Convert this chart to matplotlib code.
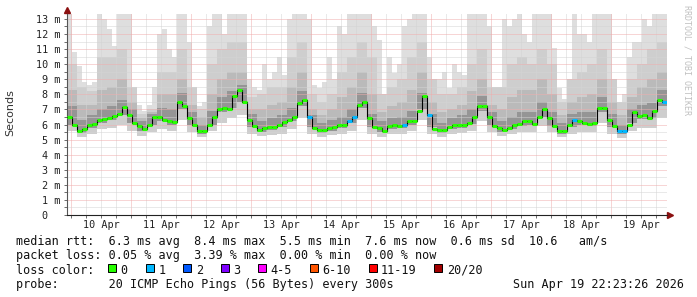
# smokeping style latency chart (median rtt + smoke)
import numpy as np
import matplotlib
matplotlib.use('Agg')
import matplotlib.pyplot as plt
import matplotlib.dates as mdates
from matplotlib.patches import Rectangle
from matplotlib.transforms import blended_transform_factory

start = np.datetime64('2026-04-09T22:23')

# median rtt, one value per 2 hours (ms)
median_rtt = [6.5, 6.0, 5.6, 5.7, 5.95, 6.05, 6.3, 6.35, 6.45, 6.55, 6.7, 7.15,
              6.6, 6.1, 5.9, 5.7, 6.0, 6.5, 6.5, 6.3, 6.25, 6.15, 7.5, 7.2,
              6.4, 5.95, 5.6, 5.6, 6.0, 6.5, 7.0, 7.1, 7.0, 7.9, 8.3, 7.5,
              6.3, 5.9, 5.65, 5.8, 5.85, 5.85, 5.95, 6.15, 6.3, 6.5, 7.4, 7.6,
              6.5, 5.75, 5.65, 5.65, 5.75, 5.85, 5.95, 5.95, 6.2, 6.5, 7.3, 7.5,
              6.4, 5.85, 5.8, 5.55, 5.9, 5.95, 5.9, 6.0, 6.2, 6.2, 6.9, 7.9,
              6.6, 5.7, 5.64, 5.65, 5.84, 6.0, 5.95, 6.0, 6.1, 6.5, 7.25, 7.2,
              6.5, 5.9, 5.75, 5.65, 5.8, 5.97, 6.05, 6.2, 6.25, 6.05, 6.5, 7.0,
              6.4, 5.9, 5.6, 5.6, 5.95, 6.3, 6.2, 6.1, 6.05, 6.1, 7.1, 7.1,
              6.3, 5.9, 5.57, 5.57, 6.0, 6.8, 6.56, 6.63, 6.4, 6.9, 7.6, 7.5]
# lost pings per 2 hour step
loss_count = [0] * 48 + [1] + [0] * 7 + [1, 1] + [0] * 9 + [1] + [0] * 4 + [1] + \
             [0] * 28 + [1] + [0] * 8 + [1, 1] + [0] * 7 + [1]

# highest ping, one value per 2 hours (ms)
smoke_max = [13.3, 10.8, 9.9, 8.8, 8.6, 8.8, 13.3, 13.0, 12.3, 11.2, 13.3, 13.3,
             13.3, 8.5, 7.3, 6.9, 7.3, 8.5, 12.0, 12.3, 11.0, 10.5, 13.3, 13.3,
             11.5, 8.0, 7.2, 7.5, 12.5, 13.3, 13.3, 12.0, 13.3, 13.3, 13.3, 13.3,
             9.0, 8.5, 8.3, 10.0, 9.0, 9.5, 10.5, 9.3, 13.0, 13.3, 13.3, 13.3,
             13.0, 8.6, 8.4, 8.8, 10.5, 9.0, 12.5, 12.0, 13.3, 13.3, 13.3, 13.3,
             13.3, 12.5, 11.6, 7.3, 10.5, 9.4, 10.0, 12.5, 13.0, 13.3, 13.3, 13.3,
             10.5, 8.8, 9.0, 9.5, 8.4, 10.0, 9.5, 9.3, 13.3, 13.3, 13.3, 13.3,
             12.5, 8.0, 8.5, 13.0, 12.5, 13.0, 13.3, 12.0, 11.5, 13.3, 13.3, 13.3,
             13.3, 11.1, 8.4, 7.7, 8.4, 13.3, 12.0, 12.0, 11.5, 13.3, 13.3, 13.3,
             13.3, 8.6, 7.3, 8.0, 10.5, 11.5, 11.5, 13.0, 12.5, 13.3, 13.3, 13.3]

# ping spread quantiles, one value per 4 hours (ms)
smoke_q3 = [10.0, 8.5, 8.2, 10.5, 10.5, 11.0, 8.5, 6.7, 7.0, 9.5,
            9.5, 11.0, 8.5, 7.0, 10.0, 11.0, 11.5, 11.5, 7.8, 8.0,
            8.5, 8.5, 10.5, 11.5, 8.0, 7.5, 8.0, 9.5, 10.5, 11.5,
            10.5, 8.0, 8.5, 9.0, 10.5, 11.5, 9.0, 8.0, 8.0, 8.5,
            10.0, 11.0, 8.5, 8.5, 10.0, 10.5, 10.0, 11.0, 10.0, 7.5,
            9.0, 9.5, 10.0, 11.0, 9.0, 7.5, 9.0, 10.0, 11.0, 11.5]
smoke_q2 = [8.3, 7.3, 7.3, 8.3, 8.5, 9.0, 7.5, 6.4, 6.8, 8.0,
            8.0, 9.0, 7.3, 6.5, 8.0, 9.0, 9.5, 9.5, 7.0, 7.0,
            7.3, 7.5, 8.5, 9.5, 7.0, 6.6, 7.0, 7.8, 8.5, 9.5,
            8.0, 6.8, 7.2, 7.5, 8.3, 9.5, 7.5, 6.8, 7.0, 7.3,
            8.2, 9.0, 7.3, 7.0, 7.8, 8.3, 8.3, 9.0, 8.0, 6.6,
            7.5, 7.8, 8.0, 9.0, 7.5, 6.6, 7.8, 8.5, 9.0, 9.5]
smoke_q1 = [7.2, 6.3, 6.6, 7.0, 7.2, 7.6, 7.0, 6.2, 6.7, 7.1,
            7.0, 8.1, 6.8, 6.0, 6.9, 7.8, 8.2, 8.6, 6.7, 6.2,
            6.4, 6.6, 7.1, 8.2, 6.6, 6.1, 6.3, 6.5, 7.0, 8.1,
            6.7, 6.2, 6.4, 6.5, 6.9, 8.1, 6.7, 6.1, 6.4, 6.6,
            7.0, 7.9, 6.8, 6.2, 6.5, 6.8, 6.8, 7.5, 6.8, 6.1,
            6.7, 6.8, 6.8, 7.8, 6.7, 6.0, 7.0, 7.3, 7.4, 8.3]
smoke_low = [6.0, 5.45, 5.8, 6.1, 6.3, 6.6, 6.1, 5.6, 6.0, 6.2,
             6.0, 7.0, 5.95, 5.4, 6.0, 6.8, 7.1, 7.5, 5.85, 5.5,
             5.65, 5.85, 6.2, 7.2, 5.85, 5.45, 5.6, 5.75, 6.1, 7.1,
             5.85, 5.5, 5.7, 5.75, 6.0, 7.0, 5.85, 5.45, 5.7, 5.8,
             6.05, 6.9, 5.95, 5.5, 5.7, 5.9, 5.95, 6.5, 5.9, 5.4,
             5.85, 5.95, 5.9, 6.8, 5.85, 5.37, 6.1, 6.35, 6.4, 7.2]
smoke_min = [5.6, 5.2, 5.4, 5.7, 5.8, 6.0, 5.6, 5.25, 5.5, 5.7,
             5.6, 6.3, 5.5, 5.15, 5.6, 6.1, 6.4, 6.6, 5.4, 5.25,
             5.3, 5.4, 5.7, 6.4, 5.4, 5.2, 5.3, 5.4, 5.6, 6.3,
             5.4, 5.2, 5.35, 5.4, 5.6, 6.3, 5.4, 5.2, 5.35, 5.45,
             5.6, 6.2, 5.5, 5.25, 5.35, 5.5, 5.5, 5.9, 5.5, 5.15,
             5.4, 5.5, 5.5, 6.1, 5.4, 5.1, 5.6, 5.8, 5.8, 6.4]

days = ['10 Apr', '11 Apr', '12 Apr', '13 Apr', '14 Apr',
        '15 Apr', '16 Apr', '17 Apr', '18 Apr', '19 Apr']
loss_labels = ['0', '1', '2', '3', '4-5', '6-10', '11-19', '20/20']
loss_colors = ['#26ff00', '#00b8ff', '#0059ff', '#7e00ff',
               '#ff00ff', '#ff5500', '#ff0000', '#a10000']

legend_lines = [
    'median rtt:  6.3 ms avg  8.4 ms max  5.5 ms min  7.6 ms now  0.6 ms sd  10.6   am/s',
    'packet loss: 0.05 % avg  3.39 % max  0.00 % min  0.00 % now',
    'loss color:',
    'probe:       20 ICMP Echo Pings (56 Bytes) every 300s',
]
stamp = 'Sun Apr 19 22:23:26 2026'

W, H = 697, 297
mono = 'DejaVu Sans Mono'

fig = plt.figure(figsize=(W / 100, H / 100), dpi=100)
ax = fig.add_axes([67 / W, 82 / H, 600 / W, 200.6 / H])

med_t = mdates.date2num(start + np.arange(len(median_rtt) + 1) * np.timedelta64(2, 'h'))
smk_t = mdates.date2num(start + np.arange(len(smoke_q3) + 1) * np.timedelta64(4, 'h'))

def ext(a):
    return list(a) + [a[-1]]

# smoke, lightest layer first
ax.fill_between(med_t, [5.3] * 121, ext(smoke_max), step='post', color='#dedede', lw=0)
ax.fill_between(smk_t, ext(smoke_min), ext(smoke_q3), step='post', color='#cecece', lw=0)
ax.fill_between(smk_t, ext(smoke_low), ext(smoke_q2), step='post', color='#bababa', lw=0)
ax.fill_between(smk_t, ext(smoke_low), ext(smoke_q1), step='post', color='#959595', lw=0)
# cover the flat bottom of the max layer with the real minimum
ax.fill_between(smk_t, [0] * 61, ext(smoke_min), step='post', color='white', lw=0)

# grid on top of smoke
t0 = np.datetime64('2026-04-10T00:00')
for i in range(40):
    t = mdates.date2num(t0 + np.timedelta64(6 * i, 'h'))
    col = '#f0adad' if i % 4 == 0 else '#d4d4d4'
    ax.axvline(t, color=col, lw=0.72, ls=(0, (1, 1)), zorder=2)
for i in range(1, 27):
    col = '#f0adad' if i % 2 == 0 else '#d4d4d4'
    ax.axhline(i * 0.5, color=col, lw=0.72, ls=(0, (1, 1)), zorder=2)

# median line
ax.plot(med_t, ext(median_rtt), drawstyle='steps-post', color='black', lw=0.8, zorder=3)
ax.hlines(median_rtt, med_t[:-1], med_t[1:],
          colors=[loss_colors[c] for c in loss_count], lw=2.2, zorder=4)

ax.set_xlim(med_t[0], med_t[-1])
ax.set_ylim(0, 13.3)
for s in ['top', 'right']:
    ax.spines[s].set_visible(False)
ax.spines['left'].set_color('#555555')
ax.spines['bottom'].set_color('#222222')
ax.spines['left'].set_linewidth(0.8)
ax.spines['bottom'].set_linewidth(0.8)
ax.set_yticks(np.arange(0, 13.01, 0.5))
ax.set_xticks([mdates.date2num(t0 + np.timedelta64(6 * i, 'h')) for i in range(40)])
ax.tick_params(axis='both', length=2, width=0.6, color='#555555',
               labelleft=False, labelbottom=False)

# axis arrows
ax.plot([0], [1.0 + 4 / 200], marker='^', ms=4.5, color='#8b1010',
        transform=ax.transAxes, clip_on=False)
ax.plot([1.0 + 3 / 600], [0], marker='>', ms=4.5, color='#8b1010',
        transform=ax.transAxes, clip_on=False)

# y labels
ty = blended_transform_factory(fig.transFigure, ax.transData)
for v in range(14):
    if v == 0:
        ax.text(47.5 / W, v, '0', transform=ty, ha='right', va='center_baseline',
                family=mono, fontsize=7.3, color='#222222')
    else:
        ax.text(60.5 / W, v, '%d m' % v, transform=ty, ha='right', va='center_baseline',
                family=mono, fontsize=7.3, color='#222222')

# day labels at noon
tx = blended_transform_factory(ax.transData, fig.transFigure)
for i, d in enumerate(days):
    t = mdates.date2num(t0 + np.timedelta64(24 * i + 12, 'h'))
    ax.text(t, 1 - 228 / H, d, transform=tx, ha='center', va='baseline',
            family=mono, fontsize=7.3, color='#222222')

fig.text(10 / W, 1 - 113 / H, 'Seconds', rotation=90, ha='center', va='center',
         fontsize=8, color='#333333')
fig.text(687 / W, 1 - 5 / H, 'RRDTOOL / TOBI OETIKER', rotation=270, ha='center',
         va='top', family=mono, fontsize=6, color='#c0c0c0')

# legend block
base = [245, 259.3, 273.5, 287.6]
for line, b in zip(legend_lines, base):
    fig.text(16 / W, 1 - b / H, line, family=mono, fontsize=8.5, va='baseline', color='#111111')
fig.text(513 / W, 1 - base[3] / H, stamp, family=mono, fontsize=8.5, va='baseline', color='#111111')

cw = 7.08
x = 108.3
for lab, col in zip(loss_labels, loss_colors):
    fig.add_artist(Rectangle((x / W, 1 - 272.3 / H), 8 / W, 8 / H, transform=fig.transFigure,
                             facecolor=col, edgecolor='black', lw=0.7))
    fig.text((x + 12.4) / W, 1 - base[2] / H, lab, family=mono, fontsize=8.5,
             va='baseline', color='#111111')
    x += 12.4 + len(lab) * cw + 18

fig.savefig('out.png', dpi=100)
